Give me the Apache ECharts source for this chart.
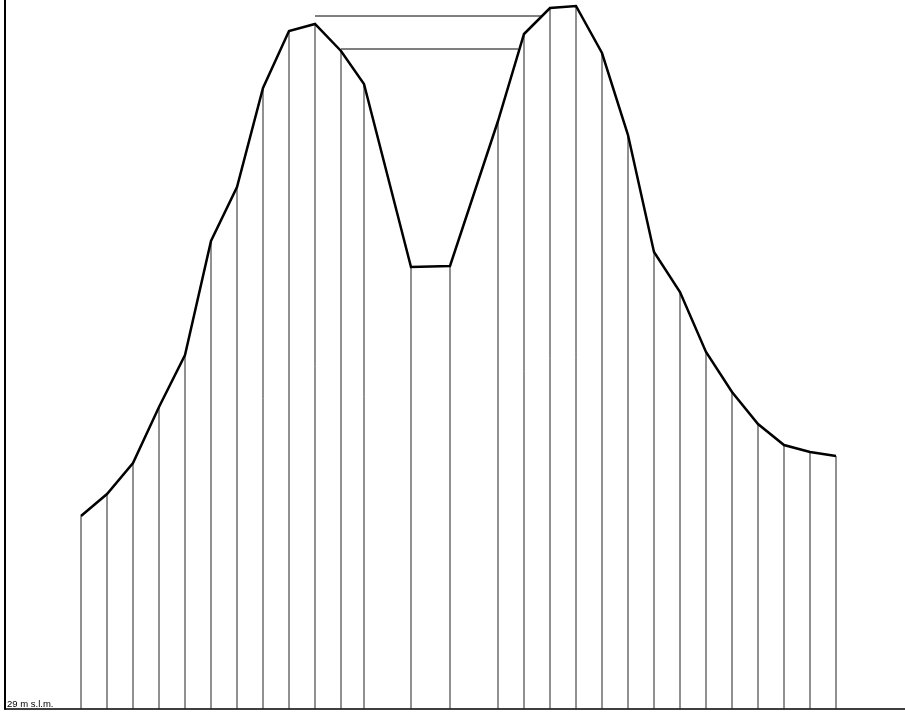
<!DOCTYPE html>
<html>
<head>
<meta charset="utf-8">
<script src="https://cdn.jsdelivr.net/npm/echarts@6/dist/echarts.min.js"></script>
<style>
html,body{margin:0;padding:0;background:#fff;}
#chart{width:905px;height:713px;}
</style>
</head>
<body>
<div id="chart"></div>
<script>
// distance along profile (arbitrary units)
const distances = [76,102,128,154,180,206,232,258,284,310,336,359,406,445,493,519,545,571,597,623,649,675,701,727,753,779,805,831];
// elevation (m s.l.m.)
const elevations = [48.3,50.5,53.6,59.2,64.4,75.8,81.2,91.1,96.8,97.5,94.8,91.5,73.2,73.3,87.8,96.5,99.1,99.3,94.6,86.4,74.7,70.7,64.7,60.7,57.5,55.4,54.7,54.3];
const baseElevation = 29;
const baseLabel = '29 m s.l.m.';
// horizontal reference lines: [x, elevation] start and end
const refLine1 = [[310, 98.3], [536, 98.3]];
const refLine2 = [[336, 95.0], [513, 95.0]];

const profile = distances.map((d, i) => [d, elevations[i]]);

const chart = echarts.init(document.getElementById('chart'));
chart.setOption({
  animation: false,
  backgroundColor: '#fff',
  grid: { left: 5, right: 0, top: 0, bottom: 4, containLabel: false },
  xAxis: {
    type: 'value', min: 0, max: 900,
    axisLine: { show: true, onZero: false, lineStyle: { color: '#000', width: 1.5 } },
    axisTick: { show: false }, axisLabel: { show: false }, splitLine: { show: false }
  },
  yAxis: {
    type: 'value', min: baseElevation, max: 99.9,
    axisLine: { show: true, lineStyle: { color: '#000', width: 2 } },
    axisTick: { show: false }, axisLabel: { show: false }, splitLine: { show: false }
  },
  graphic: [{
    type: 'text', left: 7, top: 699,
    style: { text: baseLabel, fontSize: 9.5, fontFamily: 'Liberation Sans, Arial, sans-serif', fill: '#000' }
  }],
  series: [
    {
      type: 'custom',
      data: profile,
      z: 1,
      renderItem: function (params, api) {
        const top = api.coord([api.value(0), api.value(1)]);
        const bot = api.coord([api.value(0), baseElevation]);
        return {
          type: 'line',
          shape: { x1: top[0], y1: top[1], x2: bot[0], y2: bot[1] },
          style: { stroke: '#222', lineWidth: 1 }
        };
      }
    },
    {
      type: 'line', data: refLine1, symbol: 'none', z: 2,
      lineStyle: { color: '#000', width: 1 }
    },
    {
      type: 'line', data: refLine2, symbol: 'none', z: 2,
      lineStyle: { color: '#000', width: 1 }
    },
    {
      type: 'line', data: profile, symbol: 'none', z: 3,
      lineStyle: { color: '#000', width: 2.5, join: 'miter' }
    }
  ]
});
</script>
</body>
</html>
